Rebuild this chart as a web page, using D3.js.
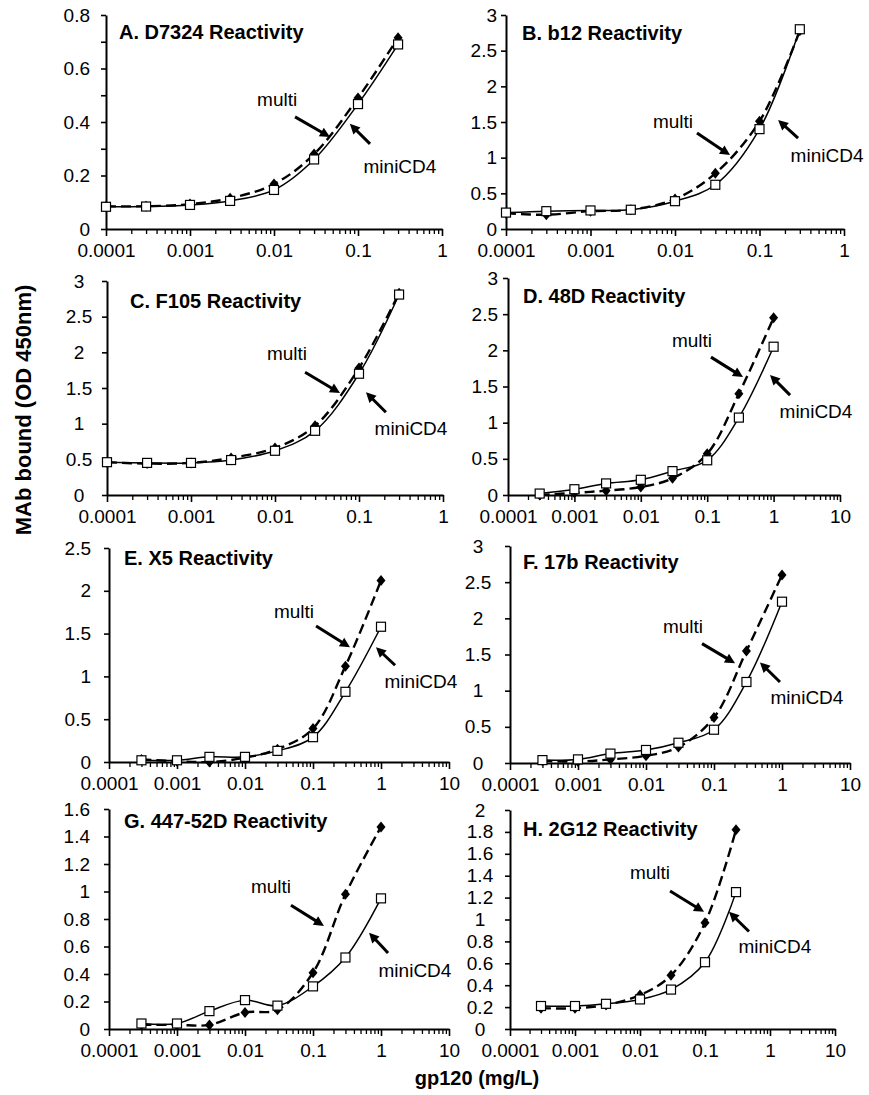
<!DOCTYPE html>
<html>
<head>
<meta charset="utf-8">
<script src="https://cdn.jsdelivr.net/npm/d3@7"></script>
<style>
body { margin: 0; background: #fff; }
text { font-family: "Liberation Sans", Arial, sans-serif; fill: #000; }
</style>
</head>
<body>
<script>
// gp120 doses (mg/L)
var doseABC = [0.0001, 0.0003, 0.001, 0.003, 0.01, 0.03, 0.1, 0.3];
var doseDEFG = [0.0003, 0.001, 0.003, 0.01, 0.03, 0.1, 0.3, 1];
var doseH = [0.0003, 0.001, 0.003, 0.01, 0.03, 0.1, 0.3];

var titles = ["A. D7324 Reactivity", "B. b12 Reactivity", "C. F105 Reactivity", "D. 48D Reactivity",
              "E. X5 Reactivity", "F. 17b Reactivity", "G. 447-52D Reactivity", "H. 2G12 Reactivity"];

// OD 450nm, miniCD4 (open squares) and multi (black diamonds)
var miniA = [0.083, 0.084, 0.09, 0.105, 0.146, 0.26, 0.467, 0.69];
var multiA = [0.085, 0.085, 0.093, 0.115, 0.168, 0.28, 0.49, 0.715];
var miniB = [0.23, 0.25, 0.26, 0.27, 0.39, 0.62, 1.40, 2.80];
var multiB = [0.22, 0.20, 0.25, 0.27, 0.42, 0.78, 1.51, 2.78];
var miniC = [0.46, 0.45, 0.45, 0.49, 0.62, 0.90, 1.70, 2.81];
var multiC = [0.46, 0.44, 0.45, 0.52, 0.66, 0.97, 1.78, 2.83];
var miniD = [0.02, 0.08, 0.16, 0.21, 0.33, 0.48, 1.07, 2.05];
var multiD = [0.0, 0.03, 0.06, 0.11, 0.23, 0.57, 1.40, 2.45];
var miniE = [0.02, 0.02, 0.06, 0.06, 0.13, 0.29, 0.82, 1.58];
var multiE = [0.03, 0.01, 0.0, 0.05, 0.15, 0.39, 1.12, 2.12];
var miniF = [0.04, 0.05, 0.13, 0.18, 0.28, 0.46, 1.12, 2.23];
var multiF = [0.03, 0.02, 0.05, 0.10, 0.22, 0.63, 1.55, 2.60];
var miniG = [0.04, 0.04, 0.13, 0.21, 0.17, 0.31, 0.52, 0.95];
var multiG = [0.03, 0.03, 0.03, 0.12, 0.14, 0.41, 0.98, 1.47];
var miniH = [0.21, 0.21, 0.23, 0.27, 0.36, 0.61, 1.25];
var multiH = [0.19, 0.19, 0.22, 0.31, 0.49, 0.97, 1.82];

// tick labels
var xLabels1 = ["0.0001", "0.001", "0.01", "0.1", "1"];
var xLabels10 = ["0.0001", "0.001", "0.01", "0.1", "1", "10"];
var yTicksA = [0, 0.1, 0.2, 0.3, 0.4, 0.5, 0.6, 0.7, 0.8];
var yLabelsA = ["0", "", "0.2", "", "0.4", "", "0.6", "", "0.8"];
var yTicks3 = [0, 0.5, 1, 1.5, 2, 2.5, 3];
var yLabels3 = ["0", "0.5", "1", "1.5", "2", "2.5", "3"];
var yTicksE = [0, 0.5, 1, 1.5, 2, 2.5];
var yLabelsE = ["0", "0.5", "1", "1.5", "2", "2.5"];
var yTicksG = [0, 0.2, 0.4, 0.6, 0.8, 1, 1.2, 1.4, 1.6];
var yLabelsG = ["0", "0.2", "0.4", "0.6", "0.8", "1", "1.2", "1.4", "1.6"];
var yTicksH = [0, 0.2, 0.4, 0.6, 0.8, 1, 1.2, 1.4, 1.6, 1.8, 2];
var yLabelsH = ["0", "0.2", "0.4", "0.6", "0.8", "1", "1.2", "1.4", "1.6", "1.8", "2"];

// annotations in data units: multi label, multi arrow (tail, head), miniCD4 label, miniCD4 arrow
var notesA = [[0.0109, 0.46], [[0.0178, 0.419], [0.0464, 0.344]], [0.316, 0.209], [[0.139, 0.318], [0.080, 0.393]]];
var notesB = [[0.00946, 1.415], [[0.0182, 1.345], [0.0448, 1.036]], [0.63, 0.94], [[0.286, 1.275], [0.166, 1.527]]];
var notesC = [[0.0139, 1.89], [[0.0228, 1.72], [0.0594, 1.43]], [0.416, 0.84], [[0.209, 1.16], [0.121, 1.44]]];
var notesD = [[0.059, 2.04], [[0.114, 1.906], [0.346, 1.63]], [4.35, 1.06], [[1.77, 1.38], [0.883, 1.66]]];
var notesE = [[0.0525, 1.68], [[0.111, 1.59], [0.35, 1.34]], [3.87, 0.86], [[1.61, 1.13], [0.843, 1.34]]];
var notesF = [[0.035, 1.80], [[0.0667, 1.65], [0.204, 1.38]], [2.33, 0.81], [[0.933, 1.12], [0.474, 1.39]]];
var notesG = [[0.0241, 0.99], [[0.0474, 0.90], [0.145, 0.75]], [3.16, 0.38], [[1.27, 0.553], [0.667, 0.70]]];
var notesH = [[0.01426, 1.37], [[0.029, 1.26], [0.0966, 1.07]], [1.19, 0.69], [[0.475, 0.89], [0.234, 1.07]]];

var panels = [
    {dose: doseABC, mini: miniA, multi: multiA, xMax: 1, yTicks: yTicksA, yLabels: yLabelsA, xLabels: xLabels1, notes: notesA},
    {dose: doseABC, mini: miniB, multi: multiB, xMax: 1, yTicks: yTicks3, yLabels: yLabels3, xLabels: xLabels1, notes: notesB},
    {dose: doseABC, mini: miniC, multi: multiC, xMax: 1, yTicks: yTicks3, yLabels: yLabels3, xLabels: xLabels1, notes: notesC},
    {dose: doseDEFG, mini: miniD, multi: multiD, xMax: 10, yTicks: yTicks3, yLabels: yLabels3, xLabels: xLabels10, notes: notesD},
    {dose: doseDEFG, mini: miniE, multi: multiE, xMax: 10, yTicks: yTicksE, yLabels: yLabelsE, xLabels: xLabels10, notes: notesE},
    {dose: doseDEFG, mini: miniF, multi: multiF, xMax: 10, yTicks: yTicks3, yLabels: yLabels3, xLabels: xLabels10, notes: notesF},
    {dose: doseDEFG, mini: miniG, multi: multiG, xMax: 10, yTicks: yTicksG, yLabels: yLabelsG, xLabels: xLabels10, notes: notesG},
    {dose: doseH, mini: miniH, multi: multiH, xMax: 10, yTicks: yTicksH, yLabels: yLabelsH, xLabels: xLabels10, notes: notesH}
];

// layout: plot box [left, right, top, bottom], title offset, y label anchor + gap
var boxes = [[106, 442, 15, 229], [506, 844, 15, 229], [107, 443, 281, 495], [508, 840, 278, 495],
             [109, 449, 548, 762], [510, 850, 546, 763], [109, 449, 809, 1029], [510, 835, 810, 1029]];
var titleOff = [[13, 24], [16, 25], [23, 27], [15, 25], [15, 17], [13, 23], [15, 19], [13, 26]];
var yLabelPos = [["end", 16], ["end", 9], ["middle", 28], ["end", 10], ["end", 18], ["middle", 32], ["end", 19], ["middle", 30]];

var svg = d3.select("body").append("svg")
    .attr("width", 869)
    .attr("height", 1095);

panels.forEach(function(p, i) {
    var b = boxes[i];
    var x = d3.scaleLog().domain([0.0001, p.xMax]).range([b[0], b[1]]);
    var y = d3.scaleLinear().domain([0, p.yTicks[p.yTicks.length - 1]]).range([b[3], b[2]]);
    var g = svg.append("g");

    // minor x ticks
    var minor = [];
    for (var e = -4; Math.pow(10, e) < p.xMax; e++)
        for (var k = 2; k <= 9; k++) minor.push(k * Math.pow(10, e));
    var majors = p.xLabels.map(Number);

    var gxMinor = g.append("g")
        .attr("transform", "translate(0," + b[3] + ")")
        .call(d3.axisBottom(x).tickValues(minor).tickSize(5).tickSizeOuter(0).tickFormat(""));
    gxMinor.select(".domain").remove();
    gxMinor.selectAll("line").attr("stroke-width", 1.3);

    var gx = g.append("g")
        .attr("transform", "translate(0," + b[3] + ")")
        .call(d3.axisBottom(x).tickValues(majors).tickSize(7).tickSizeOuter(0)
            .tickFormat(function(d, j) { return p.xLabels[j]; }));
    gx.select(".domain").attr("stroke-width", 2);
    gx.selectAll("line").attr("stroke-width", 1.6);
    gx.selectAll("text").attr("font-size", 19).attr("dy", null).attr("y", 28);

    var gy = g.append("g")
        .attr("transform", "translate(" + b[0] + ",0)")
        .call(d3.axisLeft(y).tickValues(p.yTicks).tickSize(5).tickSizeOuter(0)
            .tickFormat(function(d, j) { return p.yLabels[j]; }));
    gy.select(".domain").attr("stroke-width", 2);
    gy.selectAll("line").attr("stroke-width", 1.6);
    gy.selectAll("text")
        .attr("font-size", 19)
        .attr("text-anchor", yLabelPos[i][0])
        .attr("x", -yLabelPos[i][1]);

    g.append("text")
        .attr("x", b[0] + titleOff[i][0])
        .attr("y", b[2] + titleOff[i][1])
        .attr("font-size", 20)
        .attr("font-weight", "bold")
        .text(titles[i]);

    var line = d3.line()
        .x(function(d) { return x(d[0]); })
        .y(function(d) { return y(d[1]); })
        .curve(d3.curveCatmullRom.alpha(0.5));

    var multiPts = p.dose.map(function(d, j) { return [d, p.multi[j]]; });
    var miniPts = p.dose.map(function(d, j) { return [d, p.mini[j]]; });

    g.append("path").attr("d", line(multiPts))
        .attr("fill", "none").attr("stroke", "#000")
        .attr("stroke-width", 2.4).attr("stroke-dasharray", "10,5");
    g.selectAll(".dia").data(multiPts).enter().append("path")
        .attr("transform", function(d) { return "translate(" + x(d[0]) + "," + y(d[1]) + ")"; })
        .attr("d", "M0,-5.5L4.5,0L0,5.5L-4.5,0Z")
        .attr("fill", "#000");

    g.append("path").attr("d", line(miniPts))
        .attr("fill", "none").attr("stroke", "#000").attr("stroke-width", 1.5);
    g.selectAll(".sq").data(miniPts).enter().append("rect")
        .attr("x", function(d) { return x(d[0]) - 4.5; })
        .attr("y", function(d) { return y(d[1]) - 4.5; })
        .attr("width", 9).attr("height", 9)
        .attr("fill", "#fff").attr("stroke", "#000").attr("stroke-width", 1.2);

    // annotations
    var n = p.notes;
    label(g, x(n[0][0]), y(n[0][1]), "multi");
    arrow(g, x(n[1][0][0]), y(n[1][0][1]), x(n[1][1][0]), y(n[1][1][1]));
    label(g, x(n[2][0]), y(n[2][1]), "miniCD4");
    arrow(g, x(n[3][0][0]), y(n[3][0][1]), x(n[3][1][0]), y(n[3][1][1]));
});

function label(g, px, py, txt) {
    g.append("text")
        .attr("x", px).attr("y", py)
        .attr("text-anchor", "middle")
        .attr("font-size", 19)
        .text(txt);
}

function arrow(g, x1, y1, x2, y2) {
    var dx = x2 - x1, dy = y2 - y1;
    var len = Math.sqrt(dx * dx + dy * dy);
    var ux = dx / len, uy = dy / len;
    var hl = 10, hw = 5;
    var bx = x2 - ux * hl, by = y2 - uy * hl;
    g.append("line")
        .attr("x1", x1).attr("y1", y1)
        .attr("x2", bx + ux * 2).attr("y2", by + uy * 2)
        .attr("stroke", "#000").attr("stroke-width", 3);
    g.append("polygon")
        .attr("points", [x2, y2, bx - uy * hw, by + ux * hw, bx + uy * hw, by - ux * hw].join(","))
        .attr("fill", "#000");
}

svg.append("text")
    .attr("transform", "translate(31,410) rotate(-90)")
    .attr("text-anchor", "middle")
    .attr("font-size", 22)
    .attr("font-weight", "bold")
    .text("MAb bound (OD 450nm)");

svg.append("text")
    .attr("x", 477).attr("y", 1085)
    .attr("text-anchor", "middle")
    .attr("font-size", 20)
    .attr("font-weight", "bold")
    .text("gp120 (mg/L)");
</script>
</body>
</html>
